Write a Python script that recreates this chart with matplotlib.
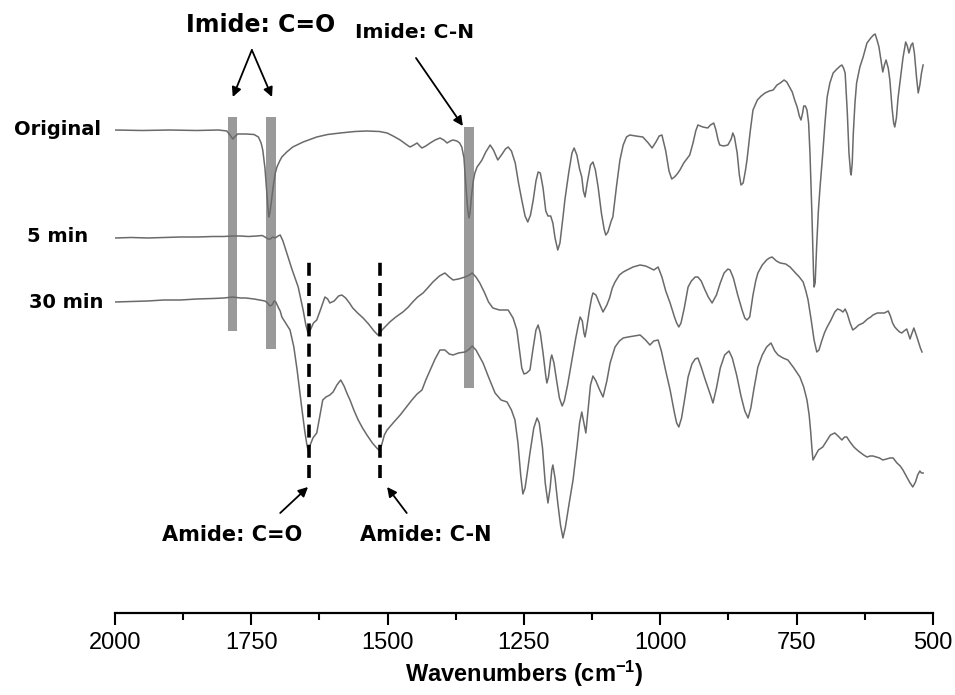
import matplotlib
matplotlib.use("Agg")
import matplotlib.pyplot as plt
from matplotlib.ticker import MultipleLocator

plt.rcParams['font.family'] = ['Liberation Sans', 'DejaVu Sans']
plt.rcParams['mathtext.fontset'] = 'custom'
plt.rcParams['mathtext.rm'] = 'Liberation Sans:bold'
plt.rcParams['mathtext.default'] = 'rm'

# FTIR spectra as (wavenumber, offset signal in a.u.)
original = [
    (2000, 483), (1950, 482.5), (1900, 483), (1850, 482.5), (1810, 483), (1795, 482),
    (1789, 478), (1784, 474), (1779, 477), (1775, 479), (1760, 479), (1745, 478.5),
    (1737, 476), (1732, 470), (1729, 463), (1725, 445), (1722, 423), (1719, 402),
    (1718, 396), (1716, 400), (1714, 408), (1710, 426), (1706, 440), (1703, 446),
    (1698, 452), (1694, 456), (1685, 461), (1674, 466), (1655, 471), (1630, 476),
    (1610, 478.5), (1587, 480), (1560, 481.5), (1538, 482), (1515, 481.5), (1501, 480),
    (1490, 477), (1477, 473), (1467, 469), (1459, 466), (1452, 468), (1446, 470),
    (1441, 467), (1437, 465), (1430, 467), (1422, 470), (1413, 473), (1404, 475),
    (1397, 473), (1391, 470), (1385, 472), (1380, 473), (1373, 472), (1368, 470),
    (1364, 466), (1360, 455), (1356, 423), (1353, 403), (1351, 395), (1349, 400),
    (1346, 418), (1343, 432), (1340, 440), (1336, 446), (1332, 449), (1327, 453),
    (1320, 461), (1312, 468), (1306, 463), (1298, 453), (1290, 459), (1284, 464),
    (1279, 466), (1273, 462), (1266, 450), (1260, 430), (1254, 413), (1248, 397),
    (1243, 391), (1238, 398), (1233, 413), (1228, 432), (1224, 441), (1220, 440),
    (1215, 425), (1210, 402), (1206, 397), (1201, 397), (1197, 390), (1193, 375),
    (1188, 363), (1184, 370), (1178, 398), (1175, 413), (1168, 440), (1162, 460),
    (1158, 465), (1153, 458), (1148, 444), (1144, 436), (1141, 422), (1138, 416),
    (1134, 430), (1128, 448), (1123.5, 451), (1119, 443), (1114, 426), (1108, 400),
    (1103, 384), (1100, 378), (1096, 381), (1090, 392), (1087, 396), (1080, 428),
    (1074, 453), (1068, 468), (1062, 476), (1056, 478), (1045, 477), (1032, 476),
    (1022, 470), (1015, 465), (1008, 471), (1002, 477), (997, 478), (990, 462),
    (984, 442), (979, 434), (974, 436), (969, 439), (964, 443), (957, 450), (950, 455),
    (946, 458), (940, 470), (935, 482), (931, 488), (922, 486), (913, 485), (908, 488),
    (902, 490), (898, 483), (894, 473), (891, 468), (884, 467), (876, 468), (870, 474),
    (867, 480), (864, 476), (859, 460), (855, 438), (852, 428), (848, 430), (844, 442),
    (841, 453), (835, 482), (830, 503), (822, 513), (815, 517), (808, 520), (800, 522),
    (793, 523), (786, 528), (780, 530), (773, 533), (768, 531), (763, 526), (758, 521),
    (753, 512), (749, 506), (745, 497), (742, 493), (739, 500), (737, 507), (734, 507),
    (731, 503), (728, 490), (725.5, 460), (722, 400), (719, 340), (718, 326), (716, 330),
    (713, 370), (710, 403), (707, 426), (702, 460), (698, 490), (694, 516), (689, 530),
    (683, 540), (676, 544), (670, 547), (667, 548), (664, 545), (661, 540), (657, 500),
    (654, 460), (651, 440), (650, 438), (648, 450), (646, 480), (643, 510), (640, 530),
    (634, 546), (628, 556), (621, 570), (614, 575), (609, 578), (606, 579), (602, 572),
    (599, 566), (596, 555), (592, 541), (589, 548), (586, 553), (582, 545), (579, 533),
    (575, 505), (572, 490), (570, 486), (567, 495), (564, 515), (560, 533), (555, 555),
    (550, 571), (547, 567), (544, 560), (540, 568), (537, 570), (534, 560), (530, 535),
    (527, 520), (524, 528), (521, 540), (518, 548),
]

min5 = [
    (2000, 375), (1970, 375.5), (1940, 375), (1910, 375.5), (1880, 376), (1850, 376),
    (1820, 376.5), (1800, 376.5), (1785, 377), (1770, 377), (1755, 376.5), (1740, 377),
    (1730, 377.5), (1725, 376), (1719, 374), (1715, 374), (1711, 376), (1706, 375),
    (1701, 377), (1697, 378), (1692, 372), (1685, 360), (1675, 343), (1664, 326),
    (1655, 303), (1650, 288), (1646, 280), (1641, 284), (1636, 290), (1630, 293),
    (1622, 305), (1615, 316), (1610, 314), (1606, 310), (1598, 312), (1590, 317),
    (1584, 318), (1577, 315), (1570, 310), (1564, 305), (1555, 300), (1545, 295),
    (1535, 289), (1525, 282), (1518, 278), (1512, 282), (1505, 286), (1496, 291),
    (1485, 296), (1472, 301), (1462, 306), (1454, 311), (1445, 316), (1435, 320),
    (1425, 326), (1417, 331), (1405, 337), (1395, 340), (1387, 336), (1380, 333),
    (1370, 334), (1358, 336), (1350, 338), (1345, 340), (1338, 336), (1331, 330),
    (1322, 320), (1315, 311), (1307, 305), (1295, 303), (1285, 303), (1279, 303),
    (1270, 295), (1263, 283), (1258, 262), (1254, 245), (1250, 239), (1245, 240),
    (1239, 243), (1234, 262), (1228, 283), (1224, 288), (1220, 280), (1215, 260),
    (1210, 237), (1208, 230), (1205, 236), (1201, 254), (1199, 258), (1195, 250),
    (1190, 232), (1185, 215), (1180, 207), (1176, 212), (1170, 228), (1162, 253),
    (1155, 275), (1150, 289), (1147, 296), (1143, 292), (1140, 280), (1138, 276),
    (1135, 285), (1130, 303), (1126, 315), (1123.5, 320), (1118, 318), (1112, 310),
    (1105, 301), (1098, 308), (1093, 315), (1088, 325), (1083, 331), (1075, 338),
    (1068, 341), (1061, 343), (1050, 346), (1037, 348), (1027, 347), (1019, 345),
    (1012, 343), (1004, 346), (997, 336), (990, 322), (982, 310), (974, 296), (970, 290),
    (966, 286), (962, 290), (956, 305), (949, 326), (943, 332), (936, 336), (931, 336),
    (925, 332), (918, 323), (912, 316), (905, 310), (897, 318), (890, 330), (883, 340),
    (876, 344), (872, 343), (866, 335), (858, 318), (850, 303), (845, 295), (841, 293),
    (836, 296), (830, 318), (825, 332), (821, 340), (813, 348), (805, 353), (800, 355),
    (795, 356), (787, 352), (780, 350), (770, 349), (762, 346), (752, 340), (745, 336),
    (738, 331), (733, 322), (729, 313), (723, 292), (718, 273), (713, 261), (709, 263),
    (704, 272), (699, 280), (694, 286), (687, 293), (680, 301), (675, 304), (670, 303),
    (665, 301), (661, 304), (657, 299), (652, 290), (647, 283), (642, 285), (636, 288),
    (628, 290), (620, 294), (614, 296), (610, 298), (602, 300), (595, 300), (589, 300),
    (582, 302), (578, 297), (574, 290), (570, 286), (565, 283), (561, 281), (557, 280),
    (553, 282), (548, 284), (545, 279), (542, 274), (539, 279), (535, 285), (530, 277),
    (526, 270), (523, 265), (520, 261),
]

min30 = [
    (2000, 311), (1970, 311.5), (1940, 312), (1910, 313), (1880, 313), (1850, 314),
    (1820, 314.5), (1800, 315), (1784, 316), (1770, 315), (1760, 315), (1745, 314),
    (1735, 313), (1725, 312), (1720, 310), (1716, 307), (1712, 308), (1708, 312),
    (1705, 311), (1700, 305), (1697, 302), (1694, 296), (1687, 290), (1679, 283),
    (1672, 266), (1666, 243), (1662, 225), (1657, 203), (1652, 182), (1648, 168),
    (1646, 163), (1642, 168), (1637, 175), (1630, 180), (1624, 198), (1619, 213),
    (1613, 216), (1606, 218), (1600, 221), (1593, 228), (1586, 233), (1580, 227),
    (1574, 219), (1569, 213), (1562, 203), (1554, 193), (1546, 185), (1538, 178),
    (1528, 170), (1520, 165), (1516, 163), (1511, 168), (1506, 178), (1501, 183),
    (1490, 190), (1477, 198), (1467, 205), (1455.5, 213), (1446, 219), (1437, 223),
    (1430, 233), (1422, 243), (1413, 254), (1404, 263), (1395, 263), (1387, 259),
    (1380, 258), (1370, 260), (1358, 261), (1350, 264), (1345, 267), (1338, 263),
    (1332, 257), (1325, 250), (1315, 236), (1303, 220), (1292, 213), (1281, 211),
    (1273, 203), (1266.5, 193), (1261, 170), (1256, 138), (1252, 119), (1248, 125),
    (1244, 140), (1239, 160), (1232, 185), (1226, 195), (1222, 190), (1216, 165),
    (1211, 130), (1206, 110), (1202, 125), (1199, 143), (1197, 148), (1193, 135),
    (1188, 110), (1183, 88), (1178.5, 75), (1174, 86), (1167, 110), (1160, 133),
    (1153, 165), (1148, 190), (1144, 201), (1140, 190), (1136.5, 180), (1133, 200),
    (1128, 228), (1123.5, 237), (1118, 232), (1112, 224), (1105, 216), (1098, 232),
    (1092, 250), (1083, 266), (1075, 272), (1068, 275), (1059, 276), (1048, 277),
    (1037, 278), (1027, 273), (1019, 268), (1012, 272), (1004, 273), (998, 262),
    (990, 242), (982, 223), (974, 200), (970, 190), (966, 186), (961, 195), (955, 215),
    (949, 236), (942, 249), (936, 254), (931, 255), (925, 246), (918, 234), (913, 226),
    (908, 218), (903.4, 210), (897, 225), (890, 245), (882, 258), (874, 262), (868, 255),
    (860, 238), (852, 217), (845, 202), (839, 195), (834, 205), (828, 225), (821, 246),
    (813, 258), (805, 266), (797, 270), (790, 262), (784, 258), (775, 255), (766, 253),
    (755, 245), (744, 236), (737, 226), (731, 213), (727, 198), (724, 180), (722, 165),
    (720, 153), (715, 158), (710, 163), (702, 166), (695, 172), (688, 178), (680, 180),
    (674, 177), (667, 173), (662, 176), (658, 176), (652, 171), (645, 166), (639, 163),
    (632, 160), (627, 158), (621, 156), (615, 157), (610, 157), (604, 156), (598, 155),
    (592, 153), (585, 154), (579, 155), (573, 155), (566, 150), (560, 147), (555, 143),
    (549, 137), (543, 131), (537, 126), (532, 131), (528, 138), (524, 142), (521, 140),
    (518, 140),
]

# marked bands
imide_co = [1784, 1714]
imide_co_bottom = [282, 264]
imide_cn = 1351
amide_co = 1644
amide_cn = 1514

fig = plt.figure(figsize=(9.55, 6.95), dpi=100)
ax = fig.add_axes([0.1204, 0.118, 0.8565, 0.882])

trace = '#6a6a6a'
bar = '#9a9a9a'

ax.bar(imide_co, [496 - b for b in imide_co_bottom], width=17, bottom=imide_co_bottom,
       color=bar, zorder=1)
ax.bar([imide_cn], [486 - 225], width=17, bottom=225, color=bar, zorder=1)

for spec in [original, min5, min30]:
    wn, sig = zip(*spec)
    ax.plot(wn, sig, color=trace, lw=1.1, zorder=3, solid_joinstyle='round')

for x in [amide_co, amide_cn]:
    ax.plot([x, x], [135, 351], color='black', lw=2.6, ls=(0, (3.6, 2.0)), zorder=4)

bold = dict(family='DejaVu Sans', fontweight='bold', ha='center', va='center')
ax.text(2105, 483, 'Original', fontsize=14, clip_on=False, **bold)
ax.text(2105, 376, '5 min', fontsize=14, clip_on=False, **bold)
ax.text(2090, 310, '30 min', fontsize=14, clip_on=False, **bold)

arr = dict(arrowstyle='-|>', color='black', lw=1.3, mutation_scale=14, shrinkA=0, shrinkB=0)
ax.text(1732, 588, 'Imide: C=O', fontsize=17, **bold)
ax.annotate('', xy=(1784, 516), xytext=(1749, 563), arrowprops=arr)
ax.annotate('', xy=(1712, 516), xytext=(1749, 563), arrowprops=arr)
ax.text(1450, 580, 'Imide: C-N', fontsize=14.5, **bold)
ax.annotate('', xy=(1362, 487), xytext=(1448, 555), arrowprops=arr)

ax.text(1785, 78, 'Amide: C=O', fontsize=15, **bold)
ax.annotate('', xy=(1646, 126), xytext=(1697, 100), arrowprops=arr)
ax.text(1430, 78, 'Amide: C-N', fontsize=15, **bold)
ax.annotate('', xy=(1501, 126), xytext=(1465, 100), arrowprops=arr)

ax.set_xlim(2000, 500)
ax.set_ylim(0, 613)
for s in ['left', 'right', 'top']:
    ax.spines[s].set_visible(False)
ax.spines['bottom'].set_linewidth(1.6)
ax.set_yticks([])
ax.xaxis.set_major_locator(MultipleLocator(250))
ax.xaxis.set_minor_locator(MultipleLocator(125))
ax.tick_params(axis='x', which='major', length=8.5, width=1.5, labelsize=17, pad=5)
ax.tick_params(axis='x', which='minor', length=5, width=1.5)
ax.set_xlabel('Wavenumbers (cm$^{-1}$)', fontsize=17, fontweight='bold', labelpad=4)

fig.savefig('out.png', dpi=100)
